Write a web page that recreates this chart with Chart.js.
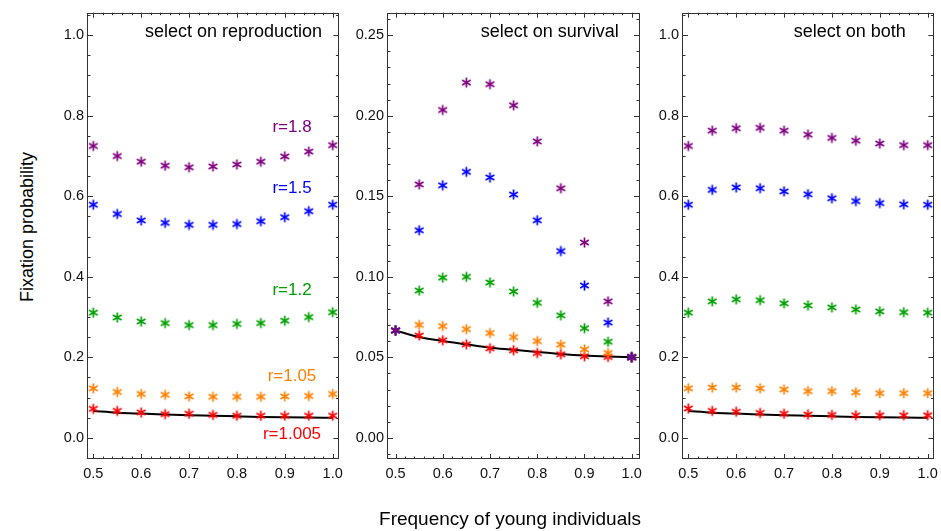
<!DOCTYPE html>
<html><head><meta charset="utf-8">
<script src="https://cdn.jsdelivr.net/npm/chart.js@4/dist/chart.umd.min.js"></script>
<style>
html,body{margin:0;padding:0;background:#fff;}
#wrap{position:relative;width:941px;height:531px;overflow:hidden;background:#fff;font-family:"Liberation Sans",Arial,sans-serif;color:#000;}
canvas{position:absolute;top:0;}
#ylab{position:absolute;left:27px;top:227px;transform:translate(-50%,-50%) rotate(-90deg);font-size:18px;white-space:nowrap;}
#xlab{position:absolute;left:510px;top:519px;transform:translate(-50%,-50%);font-size:19px;white-space:nowrap;}
</style></head>
<body>
<div id="wrap">
<canvas id="c1" width="301" height="489" style="left:48px"></canvas>
<canvas id="c2" width="301" height="489" style="left:348px"></canvas>
<canvas id="c3" width="301" height="489" style="left:643px"></canvas>
<div id="ylab">Fixation probability</div>
<div id="xlab">Frequency of young individuals</div>
</div>
<script>
// ---- data ----
const xVals = [0.5,0.55,0.6,0.65,0.7,0.75,0.8,0.85,0.9,0.95,1.0];
const neutralCurve = [0.0667,0.0626,0.0602,0.0581,0.0560,0.0548,0.0534,0.0521,0.0511,0.0505,0.0501];

const repro_r1_8   = [0.725,0.700,0.686,0.676,0.672,0.674,0.679,0.686,0.699,0.711,0.727];
const repro_r1_5   = [0.579,0.556,0.540,0.534,0.529,0.529,0.531,0.538,0.548,0.563,0.579];
const repro_r1_2   = [0.311,0.299,0.289,0.285,0.280,0.280,0.283,0.285,0.291,0.300,0.312];
const repro_r1_05  = [0.123,0.114,0.109,0.107,0.103,0.102,0.102,0.102,0.103,0.104,0.109];
const repro_r1_005 = [0.072,0.067,0.063,0.059,0.060,0.057,0.055,0.055,0.055,0.055,0.055];

const surv_r1_8   = [0.0667,0.1574,0.2036,0.2206,0.2196,0.2065,0.1841,0.1550,0.1213,0.0848,0.0501];
const surv_r1_5   = [0.0667,0.1289,0.1568,0.1652,0.1617,0.1511,0.1351,0.1160,0.0946,0.0716,0.0501];
const surv_r1_2   = [0.0667,0.0915,0.0995,0.1000,0.0965,0.0909,0.0839,0.0761,0.0681,0.0597,0.0501];
const surv_r1_05  = [0.0667,0.0702,0.0694,0.0675,0.0651,0.0626,0.0601,0.0579,0.0550,0.0527,0.0501];
const surv_r1_005 = [0.0667,0.0636,0.0606,0.0581,0.0556,0.0544,0.0527,0.0519,0.0507,0.0503,0.0501];

const both_r1_8   = [0.725,0.763,0.769,0.770,0.763,0.753,0.745,0.738,0.731,0.727,0.727];
const both_r1_5   = [0.579,0.616,0.622,0.620,0.612,0.605,0.595,0.588,0.583,0.580,0.579];
const both_r1_2   = [0.311,0.339,0.344,0.342,0.334,0.329,0.324,0.319,0.314,0.312,0.311];
const both_r1_05  = [0.123,0.125,0.125,0.123,0.120,0.116,0.116,0.113,0.111,0.111,0.111];
const both_r1_005 = [0.073,0.067,0.065,0.062,0.060,0.058,0.057,0.056,0.056,0.056,0.056];

const seriesNames = ['r=1.8','r=1.5','r=1.2','r=1.05','r=1.005'];
const panelTitles = ['select on reproduction','select on survival','select on both'];

const xTickVals   = [0.5,0.6,0.7,0.8,0.9,1.0];
const xTickLabels = ['0.5','0.6','0.7','0.8','0.9','1.0'];
const yTickValsA   = [0,0.2,0.4,0.6,0.8,1.0];
const yTickLabelsA = ['0.0','0.2','0.4','0.6','0.8','1.0'];
const yTickValsB   = [0,0.05,0.10,0.15,0.20,0.25];
const yTickLabelsB = ['0.00','0.05','0.10','0.15','0.20','0.25'];

// ---- styles ----
const COLORS = ['#800080','#0000ff','#00a000','#ff8000','#ff0000'];
const FONT = '"Liberation Sans", Arial, sans-serif';
Chart.defaults.font.family = FONT;

function makeStar(color){
  const c=document.createElement('canvas'); c.width=13; c.height=13;
  const g=c.getContext('2d'); g.strokeStyle=color; g.lineWidth=1.7;
  const r=5, cx=6.5, cy=6.5;
  [90,30,150].forEach(a=>{const t=a*Math.PI/180; g.beginPath();
    g.moveTo(cx-r*Math.cos(t), cy-r*Math.sin(t)); g.lineTo(cx+r*Math.cos(t), cy+r*Math.sin(t)); g.stroke();});
  return c;
}
const STARS = COLORS.map(makeStar);

const framePlugin = {
  id:'frame',
  beforeDatasetsDraw(chart, args, o){
    const {ctx, chartArea:a, scales:{x, y}} = chart;
    ctx.save();
    ctx.strokeStyle='#333'; ctx.lineWidth=1;
    ctx.strokeRect(Math.round(a.left)-0.5, Math.round(a.top)+0.5, Math.round(a.right-a.left)+1, Math.round(a.bottom-a.top)-1);
    ctx.beginPath();
    const ym = o.yMinor;
    for(let v=Math.ceil(y.min/ym)*ym; v<=y.max+1e-9; v+=ym){
      const major = o.yMajor.some(t=>Math.abs(t-v)<1e-6);
      const L = major?5:2.5;
      const py = Math.round(y.getPixelForValue(v))+0.5;
      ctx.moveTo(a.left, py); ctx.lineTo(a.left+L, py);
      ctx.moveTo(a.right, py); ctx.lineTo(a.right-L, py);
    }
    const xm = o.xMinor;
    for(let v=Math.ceil(x.min/xm)*xm; v<=x.max+1e-9; v+=xm){
      const major = o.xMajor.some(t=>Math.abs(t-v)<1e-6);
      const L = major?5:2.5;
      const px = Math.round(x.getPixelForValue(v))+0.5;
      ctx.moveTo(px, a.bottom); ctx.lineTo(px, a.bottom-L);
      ctx.moveTo(px, a.top); ctx.lineTo(px, a.top+L);
    }
    ctx.stroke();
    ctx.restore();
  },
  afterDatasetsDraw(chart, args, o){
    const {ctx, scales:{x, y}} = chart;
    ctx.save();
    ctx.textAlign='center'; ctx.textBaseline='alphabetic';
    (o.texts||[]).forEach(t=>{
      ctx.font = t.size+'px '+FONT; ctx.fillStyle=t.color;
      ctx.fillText(t.text, x.getPixelForValue(t.x), y.getPixelForValue(t.y));
    });
    ctx.restore();
  }
};

function makePanel(id, series, xr, yr, yTicks, yLabels, yMinor, texts){
  const datasets = series.map((d,i)=>({
    label: seriesNames[i],
    data: xVals.map((xv,j)=>({x:xv, y:d[j]})),
    pointStyle: STARS[i], pointRadius:5, showLine:false
  }));
  datasets.push({
    label:'neutral', data: xVals.map((xv,j)=>({x:xv,y:neutralCurve[j]})),
    showLine:true, pointRadius:0, borderColor:'#000', borderWidth:2,
    cubicInterpolationMode:'monotone', fill:false
  });
  new Chart(document.getElementById(id), {
    type:'scatter',
    data:{datasets},
    options:{
      responsive:false, animation:false, devicePixelRatio:1,
      layout:{padding:{top:9,right:10,left:0,bottom:0}},
      plugins:{legend:{display:false}, tooltip:{enabled:false},
        frame:{xMajor:xTickVals, xMinor:0.02, yMajor:yTicks, yMinor:yMinor, texts}},
      scales:{
        x:{type:'linear', min:xr[0], max:xr[1],
          grid:{display:false, drawTicks:false}, border:{display:false},
          afterBuildTicks:s=>{s.ticks = xTickVals.map(v=>({value:v}));},
          afterFit:s=>{s.height=30;},
          ticks:{padding:6, color:'#111', font:{size:14.5}, maxRotation:0, autoSkip:false,
            callback:(v,i)=>xTickLabels[i]}},
        y:{type:'linear', min:yr[0], max:yr[1],
          grid:{display:false, drawTicks:false}, border:{display:false},
          afterBuildTicks:s=>{s.ticks = yTicks.map(v=>({value:v}));},
          afterFit:s=>{s.width=40;},
          ticks:{padding:4, color:'#111', font:{size:14.5}, autoSkip:false,
            callback:(v,i)=>yLabels[i]}}
      }
    },
    plugins:[framePlugin]
  });
}

const lx = 0.915;
makePanel('c1', [repro_r1_8,repro_r1_5,repro_r1_2,repro_r1_05,repro_r1_005],
  [0.489,1.0119], [-0.0525,1.0559], yTickValsA, yTickLabelsA, 0.05, [
    {text:panelTitles[0], x:0.793, y:0.996, size:18, color:'#000'},
    {text:seriesNames[0], x:lx, y:0.760, size:17, color:COLORS[0]},
    {text:seriesNames[1], x:lx, y:0.607, size:17, color:COLORS[1]},
    {text:seriesNames[2], x:lx, y:0.355, size:17, color:COLORS[2]},
    {text:seriesNames[3], x:lx, y:0.141, size:17, color:COLORS[3]},
    {text:seriesNames[4], x:lx, y:-0.003, size:17, color:COLORS[4]}
  ]);
makePanel('c2', [surv_r1_8,surv_r1_5,surv_r1_2,surv_r1_05,surv_r1_005],
  [0.4841,1.0155], [-0.0131,0.2640], yTickValsB, yTickLabelsB, 0.01, [
    {text:panelTitles[1], x:0.8266, y:0.249, size:18, color:'#000'}
  ]);
makePanel('c3', [both_r1_8,both_r1_5,both_r1_2,both_r1_05,both_r1_005],
  [0.489,1.0119], [-0.0525,1.0559], yTickValsA, yTickLabelsA, 0.05, [
    {text:panelTitles[2], x:0.8374, y:0.996, size:18, color:'#000'}
  ]);
</script>
</body></html>
